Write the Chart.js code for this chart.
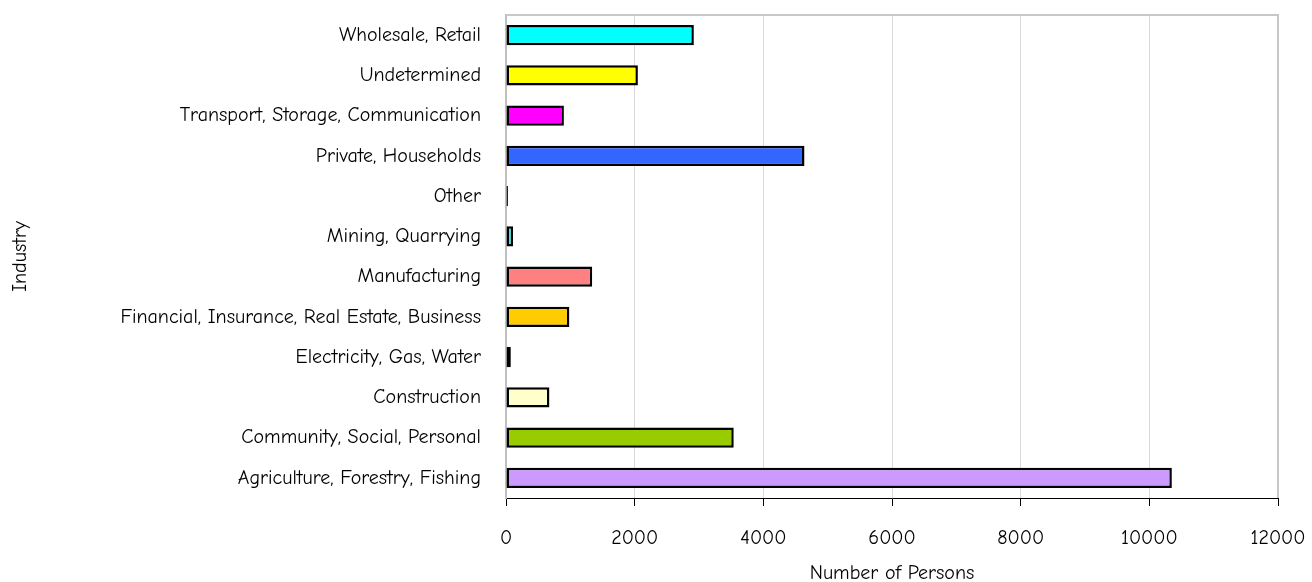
<!DOCTYPE html>
<html>
<head>
<meta charset="utf-8">
<script src="https://cdn.jsdelivr.net/npm/chart.js@4/dist/chart.umd.min.js"></script>
<style>
  html, body { margin: 0; padding: 0; background: #fff; }
  canvas { display: block; }
</style>
</head>
<body>
<canvas id="industry" width="1312" height="582"></canvas>
<script>
var industries = [
    "Wholesale, Retail",
    "Undetermined",
    "Transport, Storage, Communication",
    "Private, Households",
    "Other",
    "Mining, Quarrying",
    "Manufacturing",
    "Financial, Insurance, Real Estate, Business",
    "Electricity, Gas, Water",
    "Construction",
    "Community, Social, Personal",
    "Agriculture, Forestry, Fishing"
];

var persons = [2920, 2050, 900, 4640, 30, 110, 1340, 985, 75, 675, 3540, 10350];

var barColors = [
    "#00FFFF", "#FFFF00", "#FF00FF", "#3366FF", "#FF6600", "#00FFFF",
    "#FF8080", "#FFCC00", "#CCFFFF", "#FFFFCC", "#99CC00", "#CC99FF"
];

var xTicks = [0, 2000, 4000, 6000, 8000, 10000, 12000];

var fontFamily = "'Comic Sans MS', 'Comic Neue', 'DejaVu Sans', sans-serif";
var fontSize = 20;

// gray frame round the plot area (top and right edge)
var plotFrame = {
    id: 'plotFrame',
    beforeDatasetsDraw: function (chart) {
        var a = chart.chartArea, c = chart.ctx;
        c.save();
        c.strokeStyle = '#c8c8c8';
        c.lineWidth = 2;
        c.beginPath();
        c.moveTo(a.left, a.top);
        c.lineTo(a.right, a.top);
        c.lineTo(a.right, a.bottom);
        c.stroke();
        c.restore();
    }
};

var ctx1 = document.getElementById('industry').getContext('2d');

var industryChart = new Chart(ctx1, {
    type: 'bar',
    data: {
        labels: industries,
        datasets: [{
            data: persons,
            backgroundColor: barColors,
            borderColor: '#000',
            borderWidth: 2.5,
            borderSkipped: false,
            barPercentage: 0.5,
            categoryPercentage: 1
        }]
    },
    options: {
        indexAxis: 'y',
        responsive: false,
        animation: false,
        layout: { padding: { top: 15, right: 34, left: 0, bottom: 0 } },
        plugins: {
            legend: { display: false },
            tooltip: { enabled: false }
        },
        scales: {
            x: {
                min: 0,
                max: 12000,
                afterBuildTicks: function (s) {
                    s.ticks = xTicks.map(function (v) { return { value: v }; });
                },
                afterFit: function (s) {
                    s.height = 84;
                    s.paddingLeft = 0;
                    s.paddingRight = 0;
                },
                grid: {
                    color: '#d9d9d9',
                    lineWidth: 1,
                    tickColor: '#000',
                    tickLength: 8
                },
                border: { color: '#000', width: 1 },
                ticks: {
                    padding: 20,
                    color: '#000',
                    maxRotation: 0,
                    callback: function (v) { return String(v); },
                    font: { family: fontFamily, size: fontSize }
                },
                title: {
                    display: true,
                    text: 'Number of Persons',
                    color: '#000',
                    padding: { top: 0, bottom: -3 },
                    font: { family: fontFamily, size: fontSize }
                }
            },
            y: {
                afterFit: function (s) {
                    s.width = 506;
                    s.paddingTop = 0;
                    s.paddingBottom = 0;
                },
                grid: { display: false, drawTicks: false },
                border: { color: '#c0c0c0', width: 2 },
                ticks: {
                    padding: 25,
                    color: '#000',
                    font: { family: fontFamily, size: fontSize }
                },
                title: {
                    display: true,
                    text: 'Industry',
                    color: '#000',
                    padding: { top: 8, bottom: 0 },
                    font: { family: fontFamily, size: fontSize }
                }
            }
        }
    },
    plugins: [plotFrame]
});
</script>
</body>
</html>
